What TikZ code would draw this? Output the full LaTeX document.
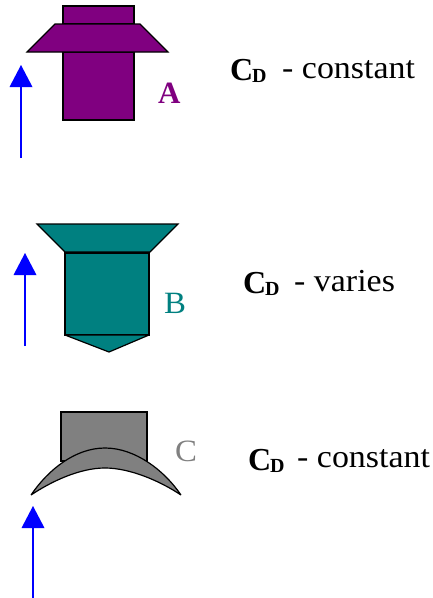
\documentclass[tikz,border=0pt]{standalone}
\usepackage{fontspec}
\setmainfont{Liberation Serif}
\newfontfamily\widef[FakeStretch=1.06]{Liberation Serif}
\definecolor{pur}{RGB}{128,0,128}
\definecolor{tl}{RGB}{0,128,128}
\definecolor{gr}{RGB}{128,128,128}
\definecolor{arr}{RGB}{0,0,255}
\tikzset{
  shp/.style={draw=black,line width=1.2pt,line join=miter,miter limit=3},
  flow/.style={draw=arr,line width=1.3pt},
  flowhead/.style={fill=arr,draw=none},
  big/.style={inner sep=0pt,anchor=base west,font=\widef\fontsize{32}{32}\selectfont},
  bigc/.style={inner sep=0pt,anchor=base west,font=\bfseries\fontsize{32}{32}\selectfont},
  letter/.style={inner sep=0pt,anchor=base west,font=\widef\fontsize{31}{31}\selectfont},
  sub/.style={inner sep=0pt,anchor=base west,font=\bfseries\fontsize{20}{20}\selectfont}
}
\begin{document}
\begin{tikzpicture}[x=1pt,y=-1pt]
\useasboundingbox (0,0) rectangle (432,598);
% A
\draw[shp,fill=pur] (63,6) rectangle (134,24);
\draw[shp,fill=pur] (63,52) rectangle (134,120);
\draw[shp,fill=pur] (55,24) -- (140,24) -- (168,52) -- (27,52) -- cycle;
\coordinate (a0) at (21,158); \coordinate (a1) at (21,86);
\draw[flow] (a0) -- (a1);
\draw[flowhead] (21,65) -- (32.5,87) -- (9.5,87) -- cycle;
\node[letter,text=pur,font=\bfseries\fontsize{31}{31}\selectfont] (la) at (158,103) {A};
\node[bigc] (c1) at (230,80) {C};
\node[sub] (d1) at (252,82) {D};
\node[big] (t1) at (282,78) {- constant};
% B
\draw[shp,fill=tl] (65,252) rectangle (149,335);
\draw[shp,fill=tl] (65,335) -- (149,335) -- (109,352) -- cycle;
\draw[shp,fill=tl] (37,224) -- (178,224) -- (150,252) -- (65,252) -- cycle;
\draw[black,line width=2.6pt] (65,253) -- (150,253);
\coordinate (b0) at (25,346); \coordinate (b1) at (25,274);
\draw[flow] (b0) -- (b1);
\draw[flowhead] (25,253) -- (36.5,275) -- (13.5,275) -- cycle;
\node[letter,text=tl] (lb) at (164,313) {B};
\node[bigc] (c2) at (243,293) {C};
\node[sub] (d2) at (265,295) {D};
\node[big] (t2) at (294,291) {- varies};
% C
\draw[shp,fill=gr] (61,412) rectangle (147,461);
\draw[shp,fill=gr] (31,495) .. controls (48,470) and (75,448) .. (105,448) .. controls (135,448) and (164,470) .. (181,495) .. controls (160,481) and (130,468) .. (105,468) .. controls (80,468) and (52,481) .. (31,495) -- cycle;
\coordinate (c0) at (33,598); \coordinate (c3) at (33,527);
\draw[flow] (c0) -- (c3);
\draw[flowhead] (33,506) -- (44.5,528) -- (21.5,528) -- cycle;
\node[letter,text=gr] (lc) at (175,461) {C};
\node[bigc] (c4) at (248,470) {C};
\node[sub] (d3) at (270,472) {D};
\node[big] (t3) at (297,467) {- constant};
\end{tikzpicture}
\end{document}
